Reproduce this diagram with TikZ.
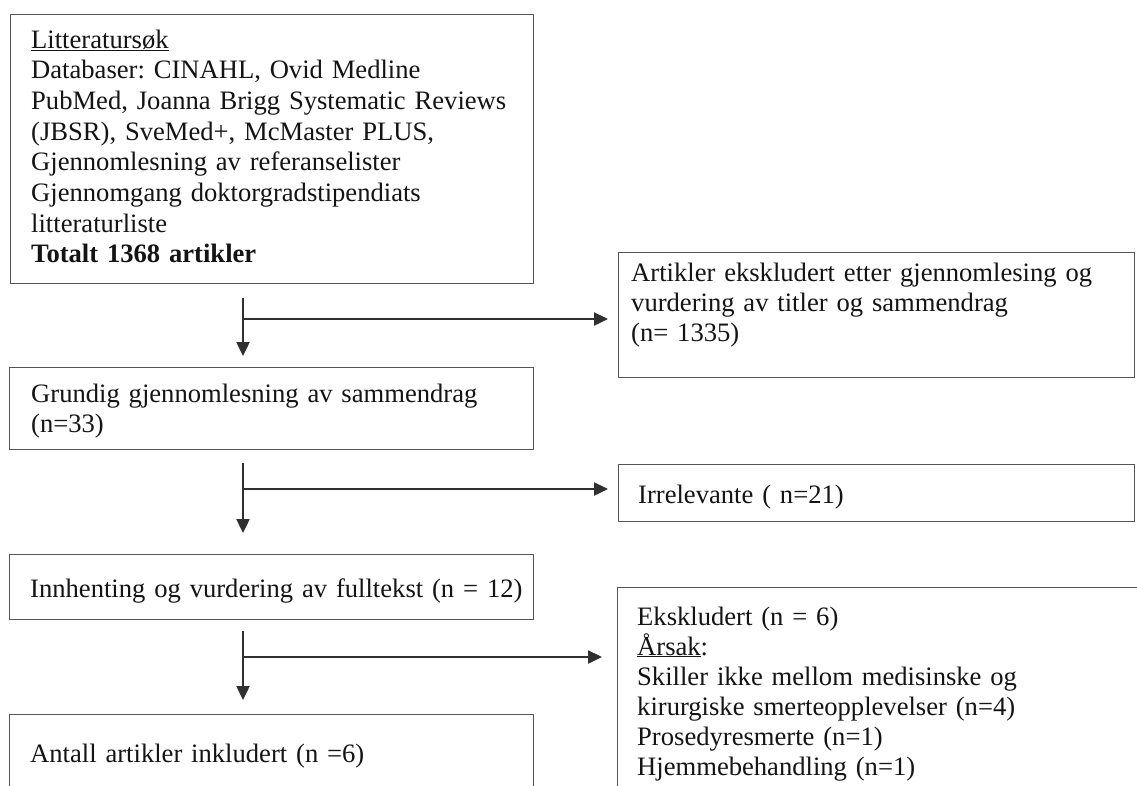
\documentclass[tikz,border=0pt]{standalone}
\usepackage{fontspec}
\setmainfont{Liberation Serif}
\usetikzlibrary{arrows.meta}
\definecolor{ink}{HTML}{141414}
\definecolor{boxline}{HTML}{555555}
\definecolor{arrowc}{HTML}{303030}
\frenchspacing
\begin{document}
\begin{tikzpicture}[x=1pt,y=-1pt,
  box/.style={draw=boxline, line width=1.3pt, anchor=north west, inner sep=0pt},
  txt/.style={text=ink, anchor=base west, inner sep=0pt, align=left, text width=560pt,
    font=\fontsize{26.6pt}{30.7pt}\selectfont},
  flow/.style={draw=arrowc, line width=2.4pt, -{Triangle[length=14pt,width=13pt]}}]
\clip (0,0) rectangle (1137,785);
\fill[white] (0,0) rectangle (1137,785);
% left column boxes
\node[box, minimum width=523pt, minimum height=269pt] (b1) at (10,14) {};
\node[box, minimum width=524pt, minimum height=82pt] (b2) at (9,367) {};
\node[box, minimum width=524pt, minimum height=65pt] (b3) at (9,554) {};
\node[box, minimum width=524pt, minimum height=120pt] (b4) at (9,714) {};
% right column boxes
\node[box, minimum width=516pt, minimum height=125pt] (e1) at (618,252) {};
\node[box, minimum width=516pt, minimum height=57pt] (e2) at (618,464) {};
\node[box, minimum width=560pt, minimum height=250pt] (e3) at (617,587) {};
% texts
\node[txt] (t1) at (31,48) {\underline{Litteratursøk}\\
Databaser: CINAHL, Ovid Medline\\
PubMed, Joanna Brigg Systematic Reviews\\
(JBSR), SveMed+, McMaster PLUS,\\
Gjennomlesning av referanselister\\
Gjennomgang doktorgradstipendiats\\
litteraturliste\\
\textbf{Totalt 1368 artikler}};
\node[txt] (t2) at (31,402) {Grundig gjennomlesning av sammendrag\\(n=33)};
\node[txt] (t3) at (30,597) {Innhenting og vurdering av fulltekst (n = 12)};
\node[txt] (t4) at (30,762) {Antall artikler inkludert (n =6)};
\node[txt, font=\fontsize{26.6pt}{30pt}\selectfont] (u1) at (631,281) {Artikler ekskludert etter gjennomlesing og\\
vurdering av titler og sammendrag\\
(n= 1335)};
\node[txt] (u2) at (638,503) {Irrelevante ( n=21)};
\node[txt, font=\fontsize{26.6pt}{30pt}\selectfont] (u3) at (637,625) {Ekskludert (n = 6)\\
\underline{Årsak}:\\
Skiller ikke mellom medisinske og\\
kirurgiske smerteopplevelser (n=4)\\
Prosedyresmerte (n=1)\\
Hjemmebehandling (n=1)};
% connectors
\coordinate (j1) at (243,319);
\coordinate (j2) at (243,489);
\coordinate (j3) at (243,657);
\draw[flow, shorten <=14pt, shorten >=11pt] (j1 |- b1.south) -- (j1 |- b2.north);
\draw[flow, shorten >=10pt] (j1) -- (j1 -| e1.west);
\draw[flow, shorten <=13pt, shorten >=21pt] (j2 |- b2.south) -- (j2 |- b3.north);
\draw[flow, shorten >=10pt] (j2) -- (j2 -| e2.west);
\draw[flow, shorten <=11pt, shorten >=14pt] (j3 |- b3.south) -- (j3 |- b4.north);
\draw[flow, shorten >=15pt] (j3) -- (j3 -| e3.west);
\end{tikzpicture}
\end{document}
